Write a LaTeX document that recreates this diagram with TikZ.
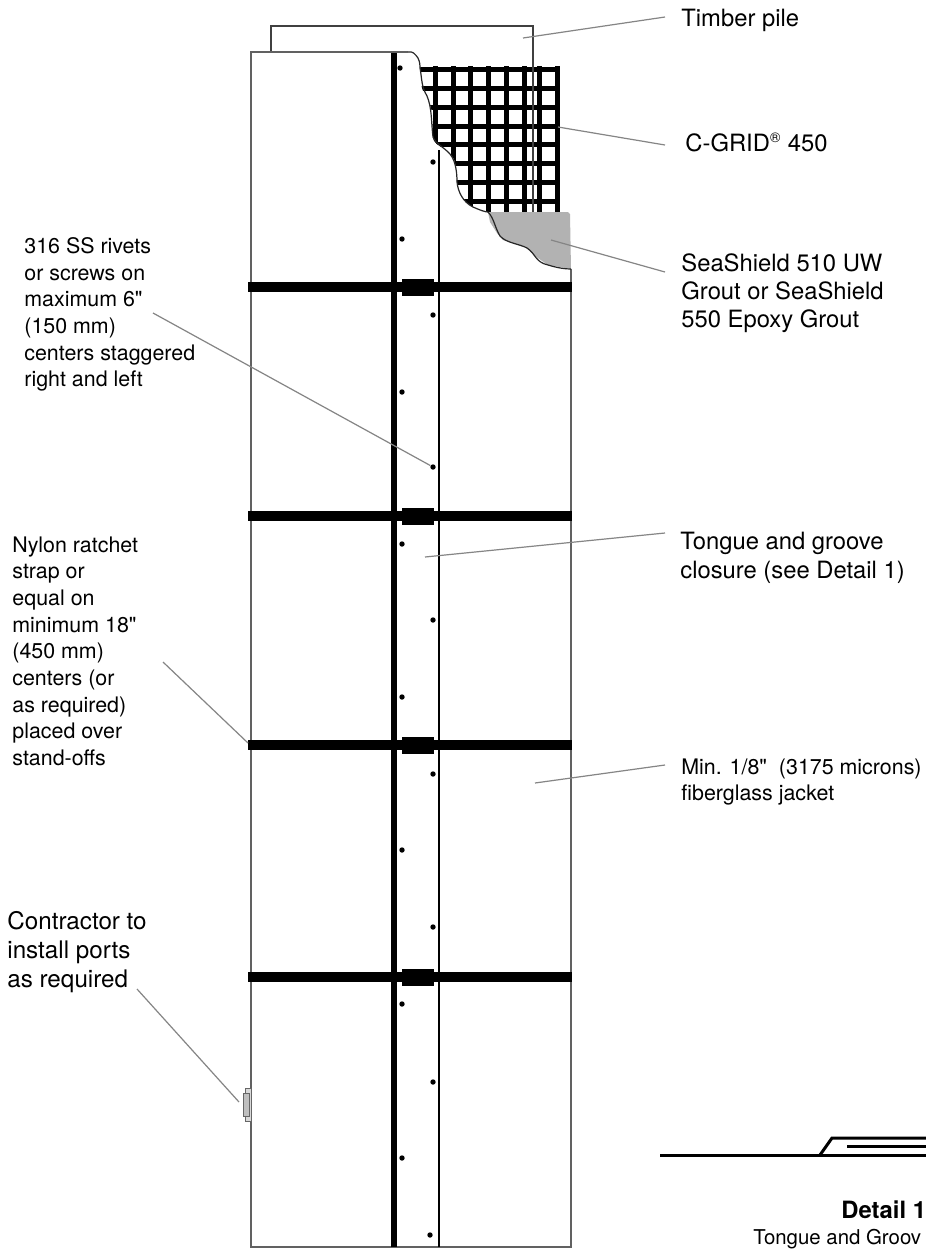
\documentclass[tikz,border=0pt]{standalone}
\usepackage{fontspec}
\setmainfont[Ligatures=TeXOff]{TeX Gyre Heros}
\tikzset{
  px/.style={x=0.5pt,y=-0.5pt},
  leader/.style={draw=black!48,line width=0.6pt},
  jacket/.style={draw=black!62,line width=0.9pt},
  tear/.style={draw=black!85,line width=0.6pt},
  closure/.style={draw=black,line width=0.9pt},
  strap/.style={draw=black,line width=4.8pt},
  buckle/.style={fill=black,draw=black,line width=0.5pt},
  gridbar/.style={draw=black,line width=2.5pt},
  rivet/.style={circle,fill=black,inner sep=0pt,minimum size=2.7pt},
  smalllabel/.style={anchor=north west,inner sep=0pt,align=left,font=\fontsize{10.7}{13.35}\selectfont},
  biglabel/.style={anchor=north west,inner sep=0pt,align=left,font=\fontsize{11.9}{14.2}\selectfont},
}
\begin{document}
\begin{tikzpicture}[px]
\useasboundingbox (0,0) rectangle (926,1249);
\fill[white] (0,0) rectangle (926,1249);
% grid
\begin{scope}
\clip (572,60) -- (425,60) -- plot[smooth,tension=0.55] coordinates {(420,68) (422,88) (428,100) (432,113) (433,137) (437,144) (448,152) (455,162) (457,182) (462,197) (473,207) (488,212)} -- (572,212) -- cycle;
\foreach \x in {435,453,470,488,506,524,539,557} \draw[gridbar] (\x,66) -- (\x,213);
\foreach \y in {69,88,107,126,144,163,182,201} \draw[gridbar] (415,\y) -- (559,\y);
\end{scope}
% grout
\fill[black!30] (488,212) -- (568,212) -- (570,214) -- (571,269) -- (548,265) -- (535,256) -- (527,248) -- (503,240) -- (497,233) -- (490,222) -- cycle;
% pile
\draw[closure,draw=black!75] (271,52) -- (271,26) -- (533,26) -- (533,212);
% jacket outline
\draw[jacket] (408,52) -- (251,52) -- (251,1247) -- (571,1247) -- (571,269);
\draw[tear] (408,52)
  .. controls (413,51) and (415,54) .. (418,58)
  .. controls (420,62) and (420,66) .. (420,68)
  .. controls (422,78) and (421,86) .. (427,96)
  .. controls (432,108) and (431,120) .. (433,137)
  .. controls (436,144) and (442,146) .. (448,152)
  .. controls (455,158) and (457,170) .. (457,182)
  .. controls (458,192) and (463,202) .. (473,207)
  .. controls (482,211) and (486,212) .. (488,212)
  .. controls (494,218) and (495,228) .. (500,236)
  .. controls (506,243) and (520,244) .. (527,248)
  .. controls (536,254) and (535,262) .. (548,265)
  .. controls (558,268) and (565,269) .. (571,269);
% closure lines
\draw[draw=black,line width=3pt] (394,53) -- (394,1247);
\draw[closure] (439,150) -- (439,1247);
% straps
\foreach \y/\n in {287/a,516/b,745/c,977/d}{
  \draw[strap] (248,\y) -- (572,\y);
  \filldraw[buckle] (402,\y-8) rectangle (433,\y+8);
}
% rivets
\foreach \x/\y [count=\i] in {400/68,433/162,402/239,433/315,402/392,433/467,402/544,433/620,402/697,433/774,402/850,433/927,402/1004,433/1082,402/1158,430/1235}
  \node[rivet] (r\i) at (\x,\y) {};
% port
\filldraw[draw=black!60,fill=black!15,line width=0.4pt] (245,1088) rectangle (251,1121);
\filldraw[draw=black!60,fill=black!25,line width=0.4pt] (243,1093) rectangle (249,1116);
% labels
\node[biglabel] (lTimber) at (681,9) {Timber pile};
\node[biglabel] (lGrid) at (685,133) {C-GRID\textsuperscript{\fontsize{7}{7}\selectfont ®} 450};
\node[biglabel] (lSea) at (681,253) {SeaShield 510 UW\\Grout or SeaShield\\550 Epoxy Grout};
\node[biglabel] (lTongue) at (680,532) {Tongue and groove\\closure (see Detail 1)};
\node[smalllabel] (lMin) at (681,758) {Min. 1/8"\ \ (3175 microns)\\fiberglass jacket};
\node[smalllabel] (lRivets) at (24,237) {316 SS rivets\\or screws on\\maximum 6"\\(150 mm)\\centers staggered\\right and left};
\node[smalllabel] (lNylon) at (12,536) {Nylon ratchet\\strap or\\equal on\\minimum 18"\\(450 mm)\\centers (or\\as required)\\placed over\\stand-offs};
\node[biglabel,font=\fontsize{12.1}{14.5}\selectfont] (lPorts) at (7,911) {Contractor to\\install ports\\as required};
\node[anchor=north west,inner sep=0pt,font=\bfseries\fontsize{11.9}{15}\selectfont] (lDetail) at (841,1200) {Detail 1};
\node[anchor=north west,inner sep=0pt,font=\fontsize{10.2}{13}\selectfont] (lDetailB) at (753,1229) {Tongue and Groov};
% leaders
\coordinate (aTimber) at (665,17); \coordinate (bTimber) at (523,38);
\coordinate (aGrid) at (665,145); \coordinate (bGrid) at (558,127);
\coordinate (aSea) at (665,272); \coordinate (bSea) at (551,240);
\coordinate (aTongue) at (665,533); \coordinate (bTongue) at (425,557);
\coordinate (aMin) at (665,765); \coordinate (bMin) at (535,783);
\coordinate (aRivets) at (153,313);
\coordinate (aNylon) at (163,662); \coordinate (bNylon) at (248,743);
\coordinate (aPorts) at (137,989); \coordinate (bPorts) at (239,1102);
\draw[leader] (aTimber) -- (bTimber);
\draw[leader] (aGrid) -- (bGrid);
\draw[leader] (aSea) -- (bSea);
\draw[leader] (aTongue) -- (bTongue);
\draw[leader] (aMin) -- (bMin);
\draw[leader] (aRivets) -- (r6);
\draw[leader] (aNylon) -- (bNylon);
\draw[leader] (aPorts) -- (bPorts);
% detail 1
\coordinate (d0) at (660,1155); \coordinate (d1) at (820,1155); \coordinate (d2) at (832,1138);
\coordinate (dEa) at (926,1155); \coordinate (dEb) at (926,1138); \coordinate (dEc) at (926,1146); \coordinate (d3) at (847,1146);
\draw[draw=black,line width=1.5pt] (d0) -- (dEa);
\draw[draw=black,line width=1.5pt] (d1) -- (d2) -- (dEb);
\draw[draw=black,line width=1.5pt] (d3) -- (dEc);
\end{tikzpicture}
\end{document}
